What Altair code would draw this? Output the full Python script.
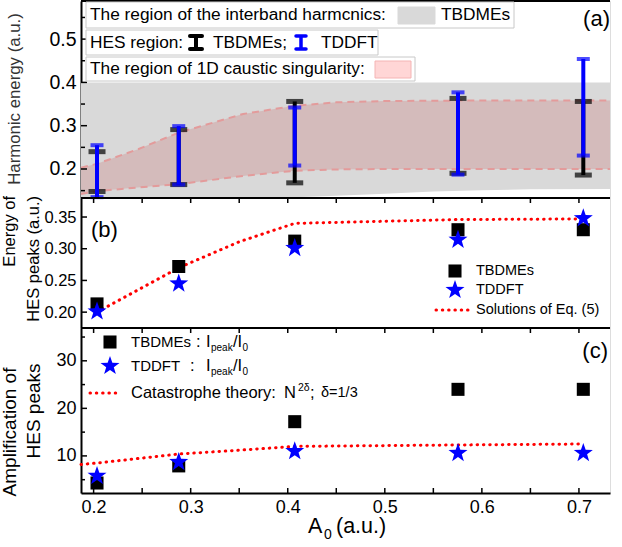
import altair as alt
import pandas as pd

FONT = "Liberation Sans"

# ---------------- data ----------------
A0 = [0.2035, 0.2877, 0.4072, 0.5754, 0.7045]

# panel (a): HES regions (error bars)
tb_lo = [0.148, 0.164, 0.168, 0.190, 0.186]
tb_hi = [0.240, 0.291, 0.356, 0.363, 0.356]
td_lo = [0.135, 0.164, 0.208, 0.187, 0.231]
td_hi = [0.255, 0.299, 0.342, 0.377, 0.454]

# interband harmonics region (gray)
gray_x = [0.187, 0.40, 0.45, 0.50, 0.55, 0.60, 0.65, 0.732]
gray_lo = [0.133, 0.134, 0.138, 0.143, 0.148, 0.151, 0.153, 0.154]
gray_hi = [0.400, 0.400, 0.400, 0.400, 0.400, 0.400, 0.400, 0.400]

# 1D caustic singularity region (pink)
caus_x = [0.187, 0.2035, 0.245, 0.2877, 0.354, 0.4072, 0.45, 0.50, 0.5754, 0.65, 0.732]
caus_lo = [0.142, 0.149, 0.157, 0.165, 0.184, 0.196, 0.199, 0.200, 0.200, 0.200, 0.200]
caus_hi = [0.203, 0.212, 0.245, 0.284, 0.327, 0.346, 0.354, 0.357, 0.358, 0.358, 0.358]

# panel (b): energy of HES peaks
peak_tb = [0.213, 0.272, 0.312, 0.330, 0.330]
peak_td = [0.201, 0.245, 0.301, 0.314, 0.348]
eq5_x = [0.2035, 0.2877, 0.35, 0.4072, 0.5754, 0.7045]
eq5_y = [0.200, 0.270, 0.311, 0.340, 0.346, 0.347]

# panel (c): amplification of HES peaks
amp_tb = [4.3, 7.9, 17.2, 24.0, 24.0]
amp_td = [5.8, 8.7, 11.0, 10.6, 10.6]
cat_x = [0.187, 0.2035, 0.2877, 0.35, 0.4072, 0.5754, 0.7045]
cat_y = [8.2, 8.5, 10.4, 11.2, 12.0, 12.3, 12.5]

# axis ticks / labels
x_labels = [0.2, 0.3, 0.4, 0.5, 0.6, 0.7]
x_ticks = [0.2, 0.25, 0.3, 0.35, 0.4, 0.45, 0.5, 0.55, 0.6, 0.65, 0.7]
ya_labels = [0.2, 0.3, 0.4, 0.5]
ya_minor = [0.15, 0.25, 0.35, 0.45, 0.55]
yb_labels = [0.20, 0.25, 0.30, 0.35]
yc_labels = [10, 20, 30]
yc_minor = [5, 15, 25, 35]

# ---------------- layout (pixels inside the plot area) ----------------
W = 529
H = 492
A_BOT, B_BOT = 197, 327          # panel separators
X0, Y0 = 88, 2                   # plot origin in the page

STAR = ("M0,-1 L0.235,-0.324 L0.951,-0.309 L0.380,0.124 L0.588,0.809 L0,0.4 "
        "L-0.588,0.809 L-0.380,0.124 L-0.951,-0.309 L-0.235,-0.324 Z")
STAR_SIZE = 400


def rx(v):
    return v - X0


def ry(v):
    return v - Y0


xs = alt.Scale(domain=[0.187, 0.732], nice=False, zero=False)
ys_a = alt.Scale(domain=[0.133, 0.588], range=[A_BOT, 0], nice=False, zero=False)
ys_b = alt.Scale(domain=[0.175, 0.380], range=[B_BOT, A_BOT], nice=False, zero=False)
ys_c = alt.Scale(domain=[2.2, 36.9], range=[H, B_BOT], nice=False, zero=False)

x_axis = alt.Axis(values=x_labels, format=".1f", ticks=False, tickSize=0, domain=True,
                  domainColor="black", domainWidth=2, grid=False, title=None, labelFontSize=18,
                  labelFont=FONT, labelColor="black", labelPadding=5, orient="bottom")


def yaxis(vals, fmt, size):
    return alt.Axis(values=vals, format=fmt, orient="left", ticks=False, tickSize=0, domain=True,
                    domainColor="black", domainWidth=2, grid=False, title=None,
                    labelFontSize=size, labelFont=FONT, labelColor="black", labelPadding=5)


AX_A = yaxis(ya_labels, ".1f", 19.5)
AX_B = yaxis(yb_labels, ".2f", 16.5)
AX_C = yaxis(yc_labels, "d", 18)

one = pd.DataFrame({"k": [0]})


def X(f):
    return alt.X(f, type="quantitative", scale=xs, axis=x_axis)


def Y(f, sc, ax=None):
    return alt.Y(f, type="quantitative", scale=sc, axis=ax)


def txt(x, y, s, size=16, align="left", angle=0, color="black"):
    return alt.Chart(one).mark_text(text=s, fontSize=size, align=align, baseline="middle",
                                    angle=angle, color=color, font=FONT).encode(
        x=alt.value(rx(x)), y=alt.value(ry(y)))


def hrule(x1, x2, y, color="black", w=2, cap="butt"):
    return alt.Chart(one).mark_rule(color=color, strokeWidth=w, strokeCap=cap).encode(
        x=alt.value(rx(x1)), x2=alt.value(rx(x2)), y=alt.value(ry(y)))


def vrule(x, y1, y2, color="black", w=2, cap="butt"):
    return alt.Chart(one).mark_rule(color=color, strokeWidth=w, strokeCap=cap).encode(
        x=alt.value(rx(x)), y=alt.value(ry(y1)), y2=alt.value(ry(y2)))


def box(x1, x2, y1, y2, fill="white", stroke="#c8c8c8"):
    return alt.Chart(one).mark_rect(fill=fill, stroke=stroke, strokeWidth=1).encode(
        x=alt.value(rx(x1)), x2=alt.value(rx(x2)), y=alt.value(ry(y1)), y2=alt.value(ry(y2)))


def sym(x, y, kind):
    if kind == "square":
        m = alt.Chart(one).mark_square(color="black", size=170, opacity=1)
    else:
        m = alt.Chart(one).mark_point(shape=STAR, filled=True, color="#0000ff", size=STAR_SIZE, opacity=1)
    return m.encode(x=alt.value(rx(x)), y=alt.value(ry(y)))


def dotted(x1, x2, y):
    return alt.Chart(one).mark_rule(color="#ff0000", strokeWidth=3, strokeDash=[0.5, 5.8],
                                    strokeCap="round").encode(
        x=alt.value(rx(x1)), x2=alt.value(rx(x2)), y=alt.value(ry(y)))


layers = []

# ---------------- panel (a) ----------------
bars = pd.DataFrame({"A0": A0, "tb_lo": tb_lo, "tb_hi": tb_hi, "td_lo": td_lo, "td_hi": td_hi})
gray = pd.DataFrame({"x": gray_x, "lo": gray_lo, "hi": gray_hi})
caus = pd.DataFrame({"x": caus_x, "lo": caus_lo, "hi": caus_hi})

layers += [
    alt.Chart(gray).mark_area(color="#d9d9d9").encode(x=X("x"), y=Y("hi", ys_a, AX_A), y2="lo"),
    alt.Chart(caus).mark_area(color="#c86464", opacity=0.25).encode(x=X("x"), y=Y("hi", ys_a), y2="lo"),
    alt.Chart(caus).mark_line(color="#e39b9b", strokeWidth=2, strokeDash=[7, 5]).encode(x=X("x"), y=Y("hi", ys_a)),
    alt.Chart(caus).mark_line(color="#e39b9b", strokeWidth=2, strokeDash=[7, 5]).encode(x=X("x"), y=Y("lo", ys_a)),
    alt.Chart(bars).mark_rule(color="black", strokeWidth=4).encode(x=X("A0"), y=Y("tb_lo", ys_a), y2="tb_hi"),
    alt.Chart(bars).mark_tick(color="black", orient="horizontal", size=17, thickness=5).encode(x=X("A0"), y=Y("tb_lo", ys_a)),
    alt.Chart(bars).mark_tick(color="black", orient="horizontal", size=17, thickness=5).encode(x=X("A0"), y=Y("tb_hi", ys_a)),
    alt.Chart(bars).mark_rule(color="#0000ff", strokeWidth=4).encode(x=X("A0"), y=Y("td_lo", ys_a), y2="td_hi"),
    alt.Chart(bars).mark_tick(color="#0000ff", orient="horizontal", size=13, thickness=4).encode(x=X("A0"), y=Y("td_lo", ys_a)),
    alt.Chart(bars).mark_tick(color="#0000ff", orient="horizontal", size=13, thickness=4).encode(x=X("A0"), y=Y("td_hi", ys_a)),
    alt.Chart(pd.DataFrame({"v": ya_labels})).mark_rule(color="black", strokeWidth=1.5).encode(
        y=Y("v", ys_a), x=alt.value(0), x2=alt.value(6)),
    alt.Chart(pd.DataFrame({"v": ya_minor})).mark_rule(color="black", strokeWidth=1.5).encode(
        y=Y("v", ys_a), x=alt.value(0), x2=alt.value(4)),
]

layers += [
    hrule(X0, X0 + W, 2, w=2),
    box(93, 521, 3, 29),
    txt(97, 16, "The region of the interband harmcnics:", 17.3),
    box(405, 442, 8, 25, fill="#d9d9d9", stroke="#d9d9d9"),
    txt(448, 16, "TBDMEs", 17.3),
    box(93, 385, 31, 56),
    txt(97, 43.5, "HES region:", 17.3),
    vrule(203, 37, 50, w=4),
    hrule(197, 209, 37, w=4, cap="round"),
    hrule(197, 209, 50, w=4, cap="round"),
    txt(220, 43.5, "TBDMEs;", 17.3),
    vrule(308, 37, 50, color="#0000ff", w=3.5),
    hrule(303, 313, 37, color="#0000ff", w=3.5, cap="round"),
    hrule(303, 313, 50, color="#0000ff", w=3.5, cap="round"),
    txt(328, 43.5, "TDDFT", 17.3),
    box(93, 422, 58, 82),
    txt(97, 70, "The region of 1D caustic singularity:", 17.3),
    box(382, 418, 62, 79, fill="#ffd6d6", stroke="#f4b4b4"),
    txt(617, 20, "(a)", 22, align="right"),
    txt(22, 100, "Harmonic energy (a.u.)", 16.8, align="center", angle=270, color="#333333"),
]

# ---------------- panel (b) ----------------
pb = pd.DataFrame({"A0": A0, "tb": peak_tb, "td": peak_td})
eq5 = pd.DataFrame({"x": eq5_x, "y": eq5_y})
layers += [
    alt.Chart(eq5).mark_line(color="#ff0000", strokeWidth=3, strokeDash=[0.5, 5.8], strokeCap="round").encode(
        x=X("x"), y=Y("y", ys_b, AX_B)),
    alt.Chart(pb).mark_square(color="black", size=170, opacity=1).encode(x=X("A0"), y=Y("tb", ys_b)),
    alt.Chart(pb).mark_point(shape=STAR, filled=True, color="#0000ff", size=STAR_SIZE, opacity=1).encode(
        x=X("A0"), y=Y("td", ys_b)),
    alt.Chart(pd.DataFrame({"v": x_ticks})).mark_rule(color="black", strokeWidth=1.5).encode(
        x=X("v"), y=alt.value(A_BOT), y2=alt.value(A_BOT + 5)),
    alt.Chart(pd.DataFrame({"v": yb_labels})).mark_rule(color="black", strokeWidth=1.5).encode(
        y=Y("v", ys_b), x=alt.value(0), x2=alt.value(6)),
    hrule(X0, X0 + W, 2 + A_BOT, w=2),
    sym(462, 272, "square"),
    sym(462, 291, "star"),
    dotted(443, 477, 311),
    txt(483, 272, "TBDMEs", 14.5),
    txt(483, 291, "TDDFT", 14.5),
    txt(483, 311, "Solutions of Eq. (5)", 14.5),
    txt(98, 231, "(b)", 22),
    txt(17, 197, "Energy of", 16.5, align="right", angle=270),
    txt(41, 197, "HES peaks (a.u.)", 16.5, align="right", angle=270),
]

# ---------------- panel (c) ----------------
pc = pd.DataFrame({"A0": A0, "tb": amp_tb, "td": amp_td})
cat = pd.DataFrame({"x": cat_x, "y": cat_y})
layers += [
    alt.Chart(cat).mark_line(color="#ff0000", strokeWidth=3, strokeDash=[0.5, 5.8], strokeCap="round").encode(
        x=X("x"), y=Y("y", ys_c, AX_C)),
    alt.Chart(pc).mark_square(color="black", size=170, opacity=1).encode(x=X("A0"), y=Y("tb", ys_c)),
    alt.Chart(pc).mark_point(shape=STAR, filled=True, color="#0000ff", size=STAR_SIZE, opacity=1).encode(
        x=X("A0"), y=Y("td", ys_c)),
    alt.Chart(pd.DataFrame({"v": x_ticks})).mark_rule(color="black", strokeWidth=1.5).encode(
        x=X("v"), y=alt.value(B_BOT), y2=alt.value(B_BOT + 5)),
    alt.Chart(pd.DataFrame({"v": x_ticks})).mark_rule(color="black", strokeWidth=1.5).encode(
        x=X("v"), y=alt.value(H - 5), y2=alt.value(H)),
    alt.Chart(pd.DataFrame({"v": yc_labels})).mark_rule(color="black", strokeWidth=1.5).encode(
        y=Y("v", ys_c), x=alt.value(0), x2=alt.value(6)),
    alt.Chart(pd.DataFrame({"v": yc_minor})).mark_rule(color="black", strokeWidth=1.5).encode(
        y=Y("v", ys_c), x=alt.value(0), x2=alt.value(4)),
    hrule(X0, X0 + W, 2 + B_BOT, w=2),
    sym(117, 343, "square"),
    sym(117, 367, "star"),
    dotted(97, 128, 394),
    txt(138, 343, "TBDMEs", 15),
    txt(203, 343, ":", 16.5),
    txt(213, 343, "I", 16.5),
    txt(218, 349, "peak", 10),
    txt(240, 343, "/I", 16.5),
    txt(249.5, 349, "0", 10),
    txt(138, 367, "TDDFT", 15),
    txt(197, 367, ":", 16.5),
    txt(213, 367, "I", 16.5),
    txt(218, 373, "peak", 10),
    txt(240, 367, "/I", 16.5),
    txt(249.5, 373, "0", 10),
    txt(138, 394, "Catastrophe theory:", 16.5),
    txt(291, 394, "N", 16.5),
    txt(305, 389, "2\u03b4", 10.5),
    txt(317, 394, ";", 16.5),
    txt(328, 394, "\u03b4=1/3", 14.5),
    txt(615, 352, "(c)", 22, align="right"),
    txt(17, 433, "Amplification of", 19, align="center", angle=270),
    txt(41, 412, "HES peaks", 19, align="center", angle=270),
    txt(315, 528, "A", 21.5),
    txt(331, 536, "0", 14),
    txt(343, 528, "(a.u.)", 21.5),
]

chart = alt.layer(*layers).resolve_scale(y="independent").properties(
    width=W, height=H,
    padding={"left": 1, "top": 0, "right": 2, "bottom": 2},
).configure_view(stroke=None).configure(background="white")

chart.save("out.html", embed_options={"renderer": "svg", "actions": False})
